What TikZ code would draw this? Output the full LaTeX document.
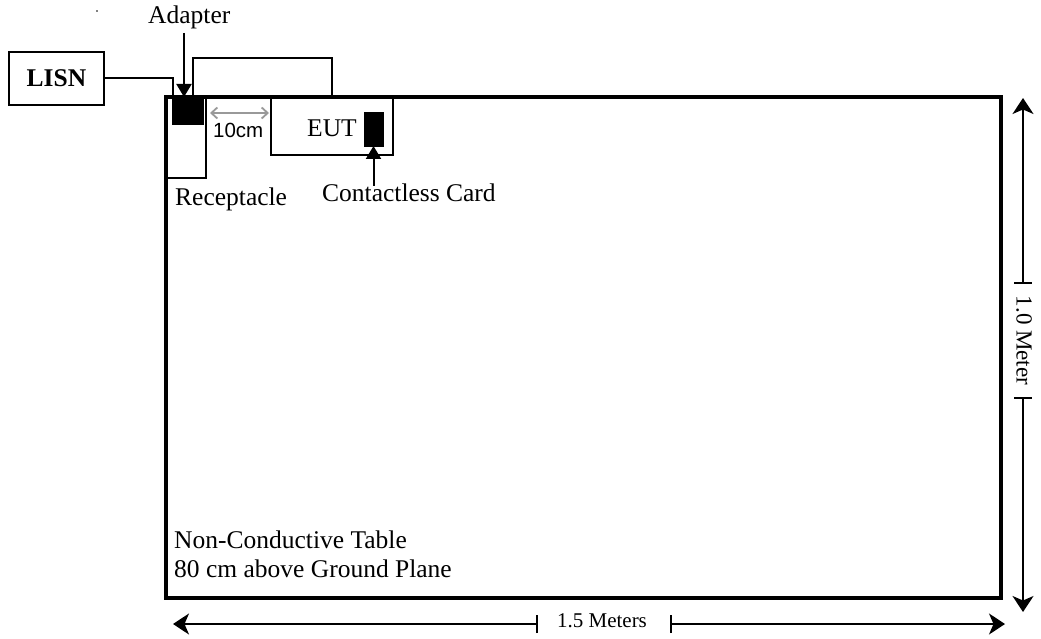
\documentclass[tikz,border=0pt]{standalone}
\usepackage{fontspec}
\setmainfont{Liberation Serif}
\setsansfont{Liberation Sans}
\usetikzlibrary{arrows.meta}
\begin{document}
\begin{tikzpicture}[x=1pt,y=-1pt,
  box/.style={draw,line width=2pt,inner sep=0pt,outer sep=0pt},
  blk/.style={fill=black,draw=black,line width=0.5pt,inner sep=0pt,outer sep=0pt},
  lbl/.style={inner sep=0pt,font=\fontsize{25.5}{28}\selectfont},
  wire/.style={line width=2pt},
  ptr/.style={line width=2pt,-{Triangle[length=13pt,width=15pt]}},
  dim/.style={line width=1.7pt,-{Stealth[length=16pt,width=21pt,inset=4.5pt]}},
  tick/.style={line width=1.7pt},
  gap/.style={line width=1.8pt,draw=black!40,{Straight Barb[length=6pt,width=11pt]}-{Straight Barb[length=6pt,width=11pt]}}
]
\useasboundingbox (0,0) rectangle (1041,639);
% table
\node[box,line width=3.5pt,minimum width=835pt,minimum height=501pt] (table) at (583.5,347.5) {};
% LISN
\node[box,minimum width=95pt,minimum height=53pt,font=\fontsize{25.5}{28}\selectfont\bfseries] (lisn) at (56.5,78.5) {LISN};
% receptacle and adapter
\node[box,minimum width=39pt,minimum height=81pt] (recept) at (186.5,137.5) {};
\node[blk,minimum width=31pt,minimum height=27pt] (adapter) at (187.5,110.5) {};
% EUT and card
\node[box,minimum width=122pt,minimum height=57pt] (eut) at (332,126.5) {};
\node[blk,minimum width=19pt,minimum height=34pt] (card) at (373.5,129) {};
% labels
\node[lbl,anchor=base west] (adlbl) at (148,24) {Adapter};
\node[lbl,anchor=base west] (eutlbl) at (307,137) {EUT};
\node[inner sep=0pt,anchor=base west,font=\sffamily\fontsize{20.5}{24}\selectfont] (cmlbl) at (213,138) {10cm};
\node[lbl,anchor=base west] (reclbl) at (175,205) {Receptacle};
\node[lbl,anchor=base west] (cardlbl) at (322,201) {Contactless Card};
\node[lbl,anchor=base west] (tbl1) at (174,548) {Non-Conductive Table};
\node[lbl,anchor=base west] (tbl2) at (174,577) {80 cm above Ground Plane};
\node[inner sep=0pt,rotate=-90,font=\fontsize{23}{25}\selectfont] (vlbl) at (1024,340.5) {1.0 Meter};
\node[inner sep=0pt,anchor=base,font=\fontsize{21}{24}\selectfont] (hlbl) at (602,627) {1.5 Meters};
% stray dot
\fill (97,11) circle (0.8pt);
% wires
\draw[wire] (lisn.east) -| ([xshift=-14.5pt]adapter.north);
\draw[wire] ([xshift=5.5pt]adapter.north) -- ++(0,-39) -| (eut.north);
% pointers
\coordinate (adfrom) at (184,33);
\draw[ptr] (adfrom) -- (adfrom |- adapter.north);
\coordinate (cardfrom) at (373.5,186);
\draw[ptr] (cardfrom) -- (card.south);
% 10cm gap arrow
\coordinate (g1) at (210,113);
\coordinate (g2) at (269,113);
\draw[gap] (g1) -- (g2);
% vertical dimension
\coordinate (vt1) at (1023,283);
\coordinate (vt2) at (1023,398);
\coordinate (vtop) at (1023,98);
\coordinate (vbot) at (1023,612);
\draw[dim] (vt1) -- (vtop);
\draw[dim] (vt2) -- (vbot);
\draw[tick] ([xshift=-9pt]vt1) -- ([xshift=9pt]vt1);
\draw[tick] ([xshift=-9pt]vt2) -- ([xshift=9pt]vt2);
% horizontal dimension
\coordinate (ht1) at (537,624);
\coordinate (ht2) at (671,624);
\coordinate (hleft) at (173,624);
\coordinate (hright) at (1005,624);
\draw[dim] (ht1) -- (hleft);
\draw[dim] (ht2) -- (hright);
\draw[tick] ([yshift=-9pt]ht1) -- ([yshift=9pt]ht1);
\draw[tick] ([yshift=-9pt]ht2) -- ([yshift=9pt]ht2);
\end{tikzpicture}
\end{document}
